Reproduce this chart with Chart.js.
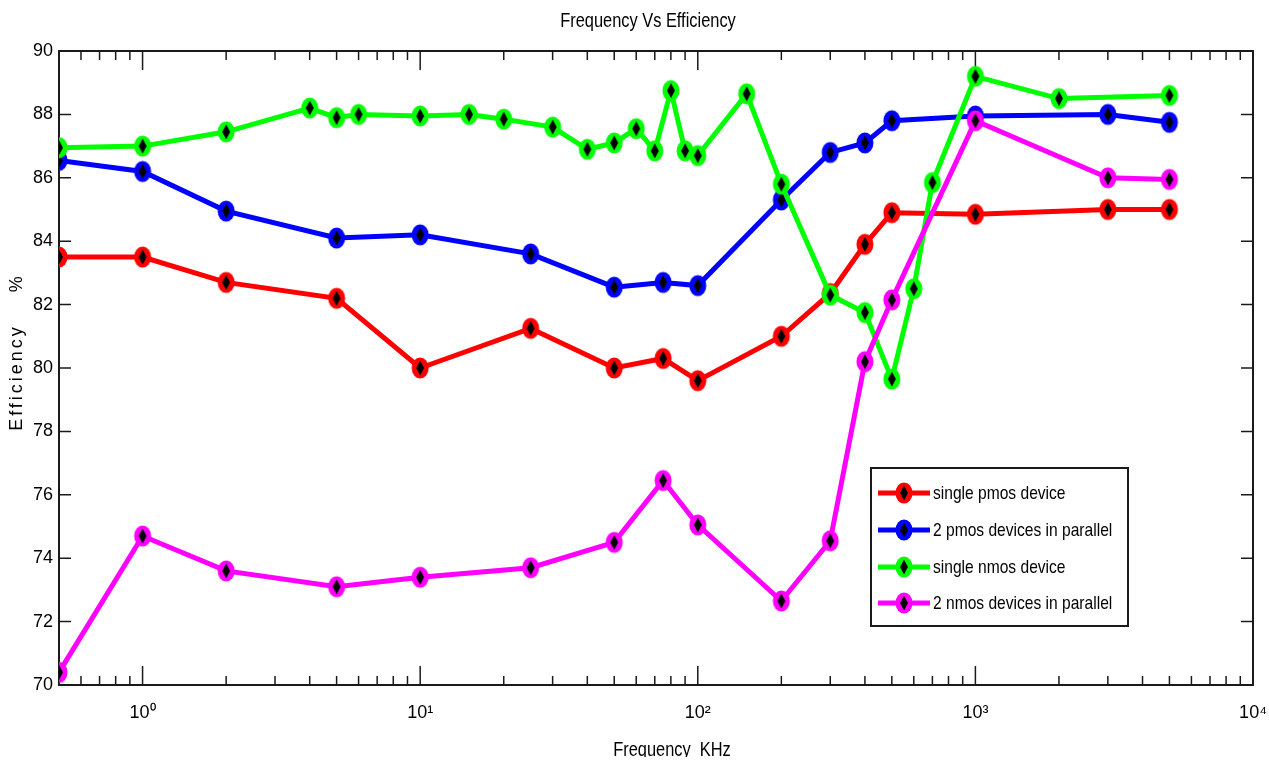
<!DOCTYPE html>
<html>
<head>
<meta charset="utf-8">
<script src="https://cdn.jsdelivr.net/npm/chart.js@4/dist/chart.umd.min.js"></script>
<style>
  html, body { margin: 0; padding: 0; background: #fff; }
  #wrap { width: 1269px; height: 764px; }
</style>
</head>
<body>
<div id="wrap"><canvas id="myChart" width="1269" height="764"></canvas></div>
<script>
// frequencies in KHz
const freqs = [0.5, 1, 2, 5, 10, 25, 50, 75, 100, 200, 300, 400, 500, 1000, 3000, 5000];
const nmosFreqs = [0.5, 1, 2, 4, 5, 6, 10, 15, 20, 30, 40, 50, 60, 70, 80, 90, 100, 150, 200, 300, 400, 500, 600, 700, 1000, 2000, 5000];

const singlePmos = [83.5, 83.5, 82.7, 82.2, 80.0, 81.25, 80.0, 80.3, 79.6, 81.0, 82.35, 83.9, 84.9, 84.85, 85.0, 85.0];
const twoPmos = [86.55, 86.2, 84.95, 84.1, 84.2, 83.6, 82.55, 82.7, 82.6, 85.3, 86.8, 87.1, 87.8, 87.95, 88.0, 87.75];
const singleNmos = [86.95, 87.0, 87.45, 88.2, 87.9, 88.0, 87.95, 88.0, 87.85, 87.6, 86.9, 87.1, 87.55, 86.85, 88.75, 86.85, 86.7, 88.65, 85.8, 82.3, 81.75, 79.65, 82.5, 85.85, 89.2, 88.5, 88.6];
const twoNmos = [70.4, 74.7, 73.6, 73.1, 73.4, 73.7, 74.5, 76.45, 75.05, 72.65, 74.55, 80.2, 82.15, 87.8, 86.0, 85.95];

const seriesNames = ['single pmos device', '2 pmos devices in parallel', 'single nmos device', '2 nmos devices in parallel'];
const seriesColors = ['#ff0000', '#0000ff', '#00ff00', '#ff00ff'];
const yTicks = [70, 72, 74, 76, 78, 80, 82, 84, 86, 88, 90];
const xDecades = [1, 10, 100, 1000, 10000];
const supers = ['\u2070', '\u00b9', '\u00b2', '\u00b3', '\u2074'];

const SANS = '"Liberation Sans", Arial, sans-serif';

function makeMarker(color) {
  const c = document.createElement('canvas');
  c.width = 20; c.height = 24;
  const g = c.getContext('2d');
  g.fillStyle = color;
  g.beginPath();
  g.ellipse(10, 12, 8.5, 10.5, 0, 0, Math.PI * 2);
  g.fill();
  g.fillStyle = '#000';
  g.beginPath();
  g.moveTo(10, 4.5); g.lineTo(14, 12); g.lineTo(10, 19.5); g.lineTo(6, 12);
  g.closePath();
  g.fill();
  return c;
}
const markers = seriesColors.map(makeMarker);

function pts(xs, ys) {
  return xs.map((x, i) => ({ x: x, y: ys[i] }));
}

const seriesData = [pts(freqs, singlePmos), pts(freqs, twoPmos), pts(nmosFreqs, singleNmos), pts(freqs, twoNmos)];

const datasets = seriesNames.map((name, i) => ({
  label: name,
  data: seriesData[i],
  borderColor: seriesColors[i],
  backgroundColor: seriesColors[i],
  borderWidth: 5,
  pointStyle: markers[i],
  pointRadius: 9,
  tension: 0,
  order: 4 - i
}));

// condensed text, the reference uses a narrow face
function narrowText(ctx, text, x, y, size, align) {
  ctx.save();
  ctx.translate(x, y);
  ctx.scale(0.82, 1);
  ctx.font = size + 'px ' + SANS;
  ctx.textAlign = align;
  ctx.textBaseline = 'middle';
  ctx.fillText(text, 0, 0);
  ctx.restore();
}

const framePlugin = {
  id: 'frame',
  beforeDatasetsDraw(chart) {
    const { ctx, chartArea: a, scales } = chart;
    const x = scales.x, y = scales.y;
    ctx.save();
    ctx.strokeStyle = '#1a1a1a';
    ctx.lineWidth = 1.5;
    ctx.beginPath();
    yTicks.forEach(v => {
      const py = y.getPixelForValue(v);
      ctx.moveTo(a.left, py); ctx.lineTo(a.left + 12, py);
      ctx.moveTo(a.right, py); ctx.lineTo(a.right - 12, py);
    });
    // decade and minor ticks on the log axis
    [0.1, 1, 10, 100, 1000].forEach(d => {
      for (let m = 1; m <= 9; m++) {
        const v = d * m;
        if (v < x.min || v > x.max) continue;
        const px = x.getPixelForValue(v);
        const len = m === 1 ? 19 : 9;
        ctx.moveTo(px, a.bottom); ctx.lineTo(px, a.bottom - len);
        ctx.moveTo(px, a.top); ctx.lineTo(px, a.top + len);
      }
    });
    const p4 = x.getPixelForValue(10000);
    ctx.moveTo(p4, a.bottom); ctx.lineTo(p4, a.bottom - 19);
    ctx.stroke();
    ctx.lineWidth = 2;
    ctx.strokeRect(a.left, a.top, a.right - a.left, a.bottom - a.top);
    ctx.restore();
  },
  afterDraw(chart) {
    const { ctx } = chart;
    ctx.save();
    ctx.fillStyle = '#000';

    // chart title
    narrowText(ctx, 'Frequency Vs Efficiency', 648, 21, 20, 'center');

    // x axis title, clipped like the source image
    ctx.save();
    ctx.beginPath();
    ctx.rect(0, 0, chart.width, 757);
    ctx.clip();
    narrowText(ctx, 'Frequency  KHz', 672, 750, 20, 'center');
    ctx.restore();

    // y axis title
    ctx.save();
    ctx.translate(17, 352);
    ctx.rotate(-Math.PI / 2);
    ctx.font = '18px ' + SANS;
    ctx.letterSpacing = '3px';
    ctx.textAlign = 'center';
    ctx.textBaseline = 'middle';
    ctx.fillText('Efficiency    %', 0, 0);
    ctx.restore();

    // legend box
    const lx = 871, ly = 468, lw = 257, lh = 158;
    ctx.fillStyle = '#fff';
    ctx.fillRect(lx, ly, lw, lh);
    ctx.strokeStyle = '#1a1a1a';
    ctx.lineWidth = 2;
    ctx.strokeRect(lx, ly, lw, lh);
    const rows = [493, 530, 567, 603];
    chart.data.datasets.forEach((ds, i) => {
      const ry = rows[i];
      ctx.strokeStyle = ds.borderColor;
      ctx.lineWidth = 5;
      ctx.beginPath();
      ctx.moveTo(878, ry); ctx.lineTo(930, ry);
      ctx.stroke();
      const mk = ds.pointStyle;
      ctx.drawImage(mk, 904 - mk.width / 2, ry - mk.height / 2);
      ctx.fillStyle = '#000';
      narrowText(ctx, ds.label, 933, ry + 1, 19, 'left');
    });
    ctx.restore();
  }
};

new Chart(document.getElementById('myChart'), {
  type: 'line',
  data: { datasets: datasets },
  options: {
    responsive: false,
    animation: false,
    layout: { padding: { left: 0, right: 16, top: 51, bottom: 0 } },
    plugins: {
      legend: { display: false },
      tooltip: { enabled: false },
      title: { display: false }
    },
    scales: {
      x: {
        type: 'logarithmic',
        min: 0.5,
        max: 10000,
        grid: { display: false, drawTicks: false },
        border: { display: false },
        afterBuildTicks: s => { s.ticks = xDecades.map(v => ({ value: v })); },
        afterFit: s => { s.height = 79; s.paddingLeft = 0; s.paddingRight = 0; },
        ticks: {
          autoSkip: false,
          maxRotation: 0,
          padding: 17,
          color: '#000',
          font: { family: SANS, size: 18 },
          callback: v => '10' + supers[Math.round(Math.log10(v))]
        }
      },
      y: {
        min: 70,
        max: 90,
        grid: { display: false, drawTicks: false },
        border: { display: false },
        afterBuildTicks: s => { s.ticks = yTicks.map(v => ({ value: v })); },
        afterFit: s => { s.width = 59; s.paddingTop = 0; s.paddingBottom = 0; },
        ticks: {
          padding: 6,
          color: '#000',
          font: { family: SANS, size: 18 }
        }
      }
    }
  },
  plugins: [framePlugin]
});
</script>
</body>
</html>
